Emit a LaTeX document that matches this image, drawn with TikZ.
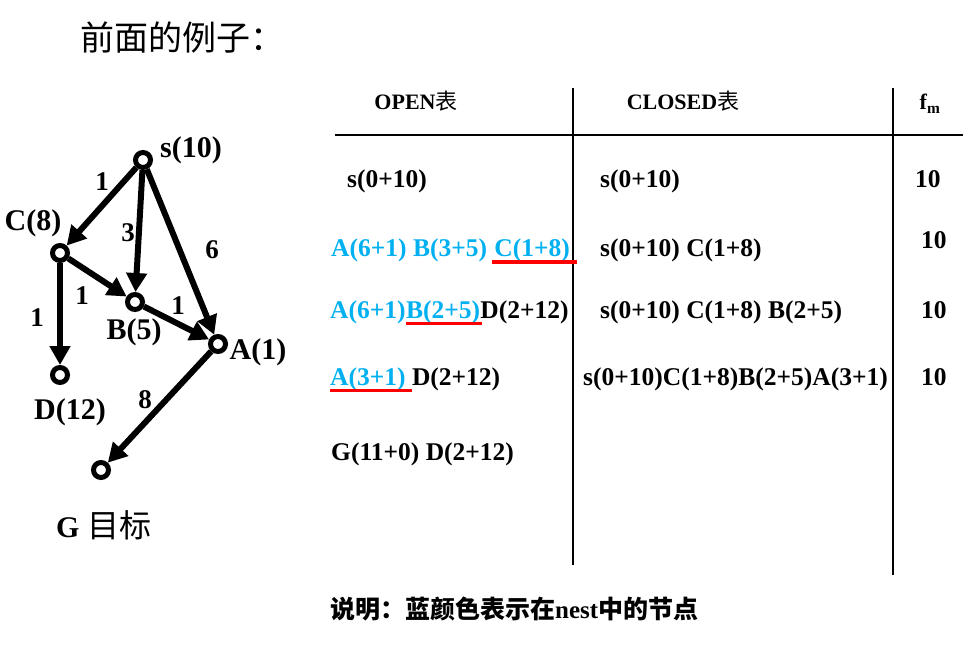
\documentclass[tikz,border=0pt]{standalone}
\usepackage{fontspec}
\setmainfont{Liberation Serif}
\newfontfamily\cjk{Noto Sans CJK SC}
\usetikzlibrary{arrows.meta}
\definecolor{skyblue}{HTML}{00B0F0}
\definecolor{ulred}{HTML}{FF0000}
\tikzset{
  vert/.style={circle, draw, line width=5pt, minimum size=15pt, inner sep=0pt},
  edge/.style={line width=6pt, -{Triangle[length=19pt,width=20pt]}},
  glab/.style={inner sep=0pt, font=\fontsize{30}{34}\selectfont\bfseries},
  elab/.style={inner sep=0pt, font=\fontsize{27}{30}\selectfont\bfseries},
  tx/.style={inner sep=0pt, anchor=base west, font=\fontsize{25.5}{28}\selectfont\bfseries},
  hd/.style={inner sep=0pt, anchor=base, font=\fontsize{22}{26}\selectfont\bfseries},
  bl/.style={tx, text=skyblue},
  ul/.style={draw=ulred, line width=3pt},
  tline/.style={line width=2pt},
}
\begin{document}
\begin{tikzpicture}[x=1pt,y=-1pt]
\useasboundingbox (0,0) rectangle (963,660);
% title
\node[anchor=west, inner sep=0pt, font=\fontsize{34}{38}\selectfont\cjk] (title) at (80,38) {前面的例子：};
% graph
\node[vert] (s) at (143,160) {};
\node[vert] (C) at (60,253) {};
\node[vert] (B) at (135,302) {};
\node[vert] (A) at (218,344) {};
\node[vert] (D) at (60,375) {};
\node[vert] (G) at (101,470) {};
\node[glab] (sl) at (191,150) {s(10)};
\node[glab] (Cl) at (33,223) {C(8)};
\node[glab] (Bl) at (134,332) {B(5)};
\node[glab] (Al) at (258,352) {A(1)};
\node[glab] (Dl) at (70,412) {D(12)};
\node[glab, anchor=west] (Gl) at (56,525) {G {\cjk\mdseries\fontsize{32}{34}\selectfont 目标}};
\draw[edge] (s) -- (C);
\draw[edge] (s) -- (B);
\draw[edge] (s) -- (A);
\draw[edge] (C) -- (B);
\draw[edge] (C) -- (D);
\draw[edge] (B) -- (A);
\draw[edge] (A) -- (G);
\node[elab] (e1) at (102,182) {1};
\node[elab] (e2) at (128,233) {3};
\node[elab] (e3) at (212,250) {6};
\node[elab] (e4) at (82,296) {1};
\node[elab] (e5) at (37,318) {1};
\node[elab] (e6) at (178,306) {1};
\node[elab] (e7) at (145,400) {8};
% table lines
\draw[tline] (335,135) -- (963,135);
\draw[tline] (573,88) -- (573,565);
\draw[tline] (893,88) -- (893,575);
% header
\node[hd] (h1) at (416,110) {OPEN{\cjk\mdseries 表}};
\node[hd] (h2) at (683,110) {CLOSED{\cjk\mdseries 表}};
\node[hd] (h3) at (930,110) {f\textsubscript{m}};
% row 1
\node[tx] (o1) at (347,188) {s(0+10)};
\node[tx] (c1) at (600,188) {s(0+10)};
\node[tx] (f1) at (915,188) {10};
% row 2
\node[bl] (o2a) at (331,257) {A(6+1) B(3+5)};
\node[bl] (o2b) at ([xshift=7pt]o2a.base east) {C(1+8)};
\draw[ul] ([xshift=-2pt,yshift=-5pt]o2b.base west) -- ([xshift=7pt,yshift=-5pt]o2b.base east);
\node[tx] (c2) at (600,257) {s(0+10) C(1+8)};
\node[tx] (f2) at (921,249) {10};
% row 3
\node[bl] (o3a) at (330,318) {A(6+1)};
\node[bl] (o3b) at (o3a.base east) {B(2+5)};
\node[tx] (o3c) at (o3b.base east) {D(2+12)};
\draw[ul] ([yshift=-5pt]o3b.base west) -- ([xshift=2pt,yshift=-5pt]o3b.base east);
\node[tx] (c3) at (600,318) {s(0+10) C(1+8) B(2+5)};
\node[tx] (f3) at (921,318) {10};
% row 4
\node[bl] (o4a) at (330,385) {A(3+1)};
\node[tx] (o4b) at ([xshift=6pt]o4a.base east) {D(2+12)};
\draw[ul] ([yshift=-5pt]o4a.base west) -- ([xshift=6pt,yshift=-5pt]o4a.base east);
\node[tx] (c4) at (583,385) {s(0+10)C(1+8)B(2+5)A(3+1)};
\node[tx] (f4) at (921,385) {10};
% row 5
\node[tx] (o5) at (331,460) {G(11+0) D(2+12)};
% note
\node[tx, font=\fontsize{25}{28}\selectfont\bfseries] (note) at (330,618) {{\cjk 说明：蓝颜色表示在}nest{\cjk 中的节点}};
\end{tikzpicture}
\end{document}
